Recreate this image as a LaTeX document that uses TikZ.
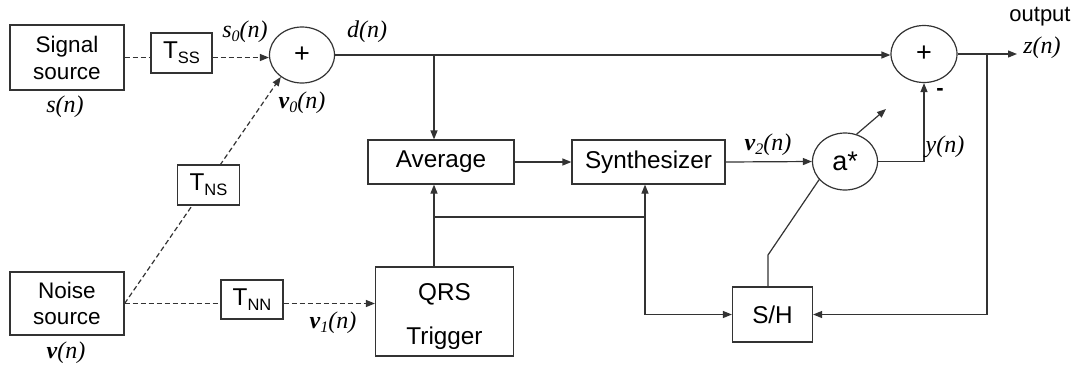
\documentclass[tikz,border=0pt]{standalone}
\usepackage{fontspec}
\setmainfont{Liberation Sans}
\newfontfamily\tms{Liberation Serif}
\usetikzlibrary{arrows.meta,shapes.geometric,backgrounds}
\definecolor{linec}{HTML}{333333}
\newcommand{\sbs}[1]{\raisebox{-5pt}{\fontsize{16.5}{16.5}\selectfont #1}}
\newcommand{\lsb}[1]{\raisebox{-4pt}{\fontsize{16}{16}\selectfont #1}}
\newcommand{\bv}{\textbf{v}}
\begin{document}
\begin{tikzpicture}[x=1pt,y=-1pt,
  box/.style={draw=linec,line width=1.2pt,fill=white,rectangle,inner sep=0pt,font=\fontsize{24.3}{28}\selectfont},
  sumnode/.style={draw=linec,line width=1.2pt,fill=white,ellipse,inner sep=0pt,font=\fontsize{27}{30}\selectfont},
  conn/.style={draw=linec,line width=1.2pt},
  arr/.style={conn,-{Triangle[length=9pt,width=7pt]}},
  dsh/.style={dash pattern=on 5pt off 3pt},
  lbl/.style={font=\tms\fontsize{24}{28}\selectfont\itshape,inner sep=0pt},
]
\useasboundingbox (0,0) rectangle (1078,368);

% blocks
\node[box,minimum width=114pt,minimum height=65pt,align=center,font=\fontsize{22.5}{27}\selectfont] (sig) at (67,57.5) {Signal\\source};
\node[box,minimum width=61pt,minimum height=40pt] (tss) at (181.5,53) {T\sbs{SS}};
\node[box,minimum width=62pt,minimum height=40pt] (tns) at (208.5,185) {T\sbs{NS}};
\node[box,minimum width=114pt,minimum height=63pt,align=center,font=\fontsize{22.5}{26}\selectfont] (noise) at (67,303.5) {Noise\\source};
\node[box,minimum width=62pt,minimum height=39pt] (tnn) at (252,299.5) {T\sbs{NN}};
\node[box,minimum width=138pt,minimum height=89pt,align=center] (qrs) at (444.5,311.5) {\rule{0pt}{27pt}QRS\\[16pt]Trigger};
\node[box,minimum width=146pt,minimum height=44pt] (avg) at (441,162) {Average};
\node[box,minimum width=153pt,minimum height=44pt] (syn) at (648.5,162) {Synthesizer};
\node[box,minimum width=80pt,minimum height=55pt] (sh) at (772.5,314.5) {S/H};
\node[sumnode,minimum width=65pt,minimum height=56pt] (sum1) at (302,55) {+};
\node[sumnode,minimum width=66pt,minimum height=57pt] (sum2) at (924,54) {+};
\node[sumnode,minimum width=65pt,minimum height=57pt] (astar) at (845,161.5) {a*};

% labels
\node[lbl] (ls0) at (245,32) {s\lsb{0}(n)};
\node[lbl] (ld) at (367,32) {d(n)};
\node[lbl] (lv0) at (302,103) {\bv\lsb{0}(n)};
\node[lbl] (ls) at (65,107) {s(n)};
\node[lbl] (lv) at (66,353) {\bv(n)};
\node[lbl] (lv1) at (333,323) {\bv\lsb{1}(n)};
\node[lbl] (lv2) at (768,145) {\bv\lsb{2}(n)};
\node[lbl] (ly) at (945,147) {y(n)};
\node[lbl] (lz) at (1042,48) {z(n)};
\node[inner sep=0pt,font=\fontsize{22}{25}\selectfont] (lout) at (1040,17) {output};
\node[inner sep=0pt,font=\fontsize{22}{25}\selectfont\bfseries] (lminus) at (940,92) {-};

% helper points
\coordinate (tapA) at (434,55);
\coordinate (brA) at (434,217);
\coordinate (brB) at (645,217);
\coordinate (kink) at (768,255);
\coordinate (gainTip) at (886,109);
\coordinate (tapZ) at (987,54);
\coordinate (outEnd) at (1017,54);

\begin{pgfonlayer}{background}
\fill[white] (0,0) rectangle (1078,368);
\draw[conn,dsh] (sig.east) -- (sig.east -| tss.west);
\draw[arr,dsh] (tss.east |- sig.east) -- (sig.east -| sum1.west);
\draw[arr,dsh] (noise.east) -- (sum1.226);
\draw[conn,dsh] (noise.east) -- (noise.east -| tnn.west);
\draw[arr,dsh] (tnn.east |- noise.east) -- (noise.east -| qrs.west);
\draw[arr] (sum1.east) -- (sum1.east -| sum2.west);
\draw[arr] (tapA) -- (tapA |- avg.north);
\draw[arr] (tapA |- qrs.north) -- (tapA |- avg.south);
\draw[conn] (brA) -- (brB);
\draw[arr] (brB) -- (brB |- syn.south);
\draw[arr] (brB) |- (sh.west);
\draw[arr] (avg.east) -- (syn.west);
\draw[arr] (syn.east) -- (astar.west);
\draw[arr] (astar.east) -| (sum2.south);
\draw[arr] (sum2.east) -- (outEnd);
\draw[arr] (tapZ) |- (sh.east);
\draw[conn] (kink |- sh.north) -- (kink) -- (astar.215);
\draw[arr] (astar.67) -- (gainTip);
\end{pgfonlayer}
\end{tikzpicture}
\end{document}
